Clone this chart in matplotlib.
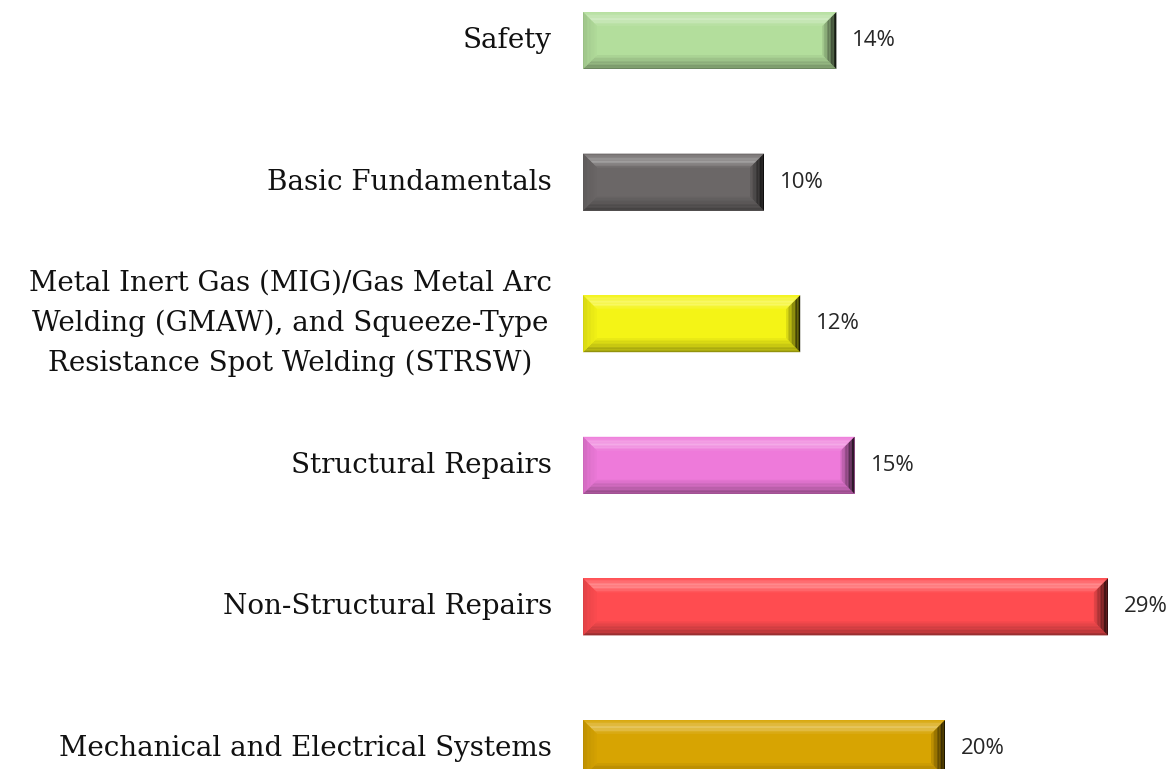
import matplotlib
matplotlib.use("Agg")
import matplotlib.pyplot as plt
import matplotlib.colors as mcolors
import numpy as np

categories = [
    "Safety",
    "Basic Fundamentals",
    "Metal Inert Gas (MIG)/Gas Metal Arc\nWelding (GMAW), and Squeeze-Type\nResistance Spot Welding (STRSW)",
    "Structural Repairs",
    "Non-Structural Repairs",
    "Mechanical and Electrical Systems",
]
values = [14, 10, 12, 15, 29, 20]
labels = ["14%", "10%", "12%", "15%", "29%", "20%"]
colors = ["#B3DE9C", "#6B6767", "#F4F416", "#EE7ADA", "#FF4C50", "#D7A402"]

W, H = 1173, 769
fig = plt.figure(figsize=(W / 100, H / 100), dpi=100)
x0 = 583
px_per_unit = 18.1
ax = fig.add_axes([x0 / W, 0, (W - x0) / W, 1])
ax.set_xlim(0, (W - x0) / px_per_unit)
step = 141.6
top_c = 40.5
ax.set_ylim((H - top_c) / step, -top_c / step)
ax.axis("off")

bar_h = 57 / step
bev_x = 14 / px_per_unit
bev_y = 14 / step


def shade(c, f):
    r, g, b = mcolors.to_rgb(c)
    if f >= 0:
        return (r + (1 - r) * f, g + (1 - g) * f, b + (1 - b) * f)
    f = -f
    return (r * (1 - f), g * (1 - f), b * (1 - f))


ypos = np.arange(len(categories))
ax.barh(ypos, values, height=bar_h, color=colors, edgecolor="none", zorder=2)

N = 10
top_prof = [0.06, 0.14, 0.22, 0.28, 0.34, 0.36, 0.32, 0.24, 0.14, 0.06]
bot_prof = [-0.40, -0.35, -0.30, -0.26, -0.22, -0.18, -0.15, -0.12, -0.08, -0.05]
right_prof = [-0.88, -0.8, -0.72, -0.62, -0.52, -0.44, -0.36, -0.28, -0.2, -0.12]
left_prof = [-0.14, -0.12, -0.10, -0.08, -0.07, -0.06, -0.05, -0.04, -0.03, -0.02]

for i, (v, c) in enumerate(zip(values, colors)):
    yt = i - bar_h / 2
    yb = i + bar_h / 2
    for k in range(N):
        t0, t1 = k / N, (k + 1) / N
        ax.fill([t0 * bev_x, v - t0 * bev_x, v - t1 * bev_x, t1 * bev_x],
                [yt + t0 * bev_y, yt + t0 * bev_y, yt + t1 * bev_y, yt + t1 * bev_y],
                color=shade(c, top_prof[k]), lw=0, zorder=3)
        ax.fill([t0 * bev_x, v - t0 * bev_x, v - t1 * bev_x, t1 * bev_x],
                [yb - t0 * bev_y, yb - t0 * bev_y, yb - t1 * bev_y, yb - t1 * bev_y],
                color=shade(c, bot_prof[k]), lw=0, zorder=3)
        ax.fill([t0 * bev_x, t1 * bev_x, t1 * bev_x, t0 * bev_x],
                [yt + t0 * bev_y, yt + t1 * bev_y, yb - t1 * bev_y, yb - t0 * bev_y],
                color=shade(c, left_prof[k]), lw=0, zorder=3)
        ax.fill([v - t0 * bev_x, v - t1 * bev_x, v - t1 * bev_x, v - t0 * bev_x],
                [yt + t0 * bev_y, yt + t1 * bev_y, yb - t1 * bev_y, yb - t0 * bev_y],
                color=shade(c, right_prof[k]), lw=0, zorder=3)
    ax.text(v + 16 / px_per_unit, i, labels[i], ha="left", va="center",
            fontsize=16, family="Open Sans", color="#262626")
    ax.text(-31 / px_per_unit, i, categories[i], ha="right", va="center",
            fontsize=20, family="DejaVu Serif", color="#111111",
            multialignment="center", linespacing=1.6, clip_on=False)

fig.savefig("out.png", dpi=100)
